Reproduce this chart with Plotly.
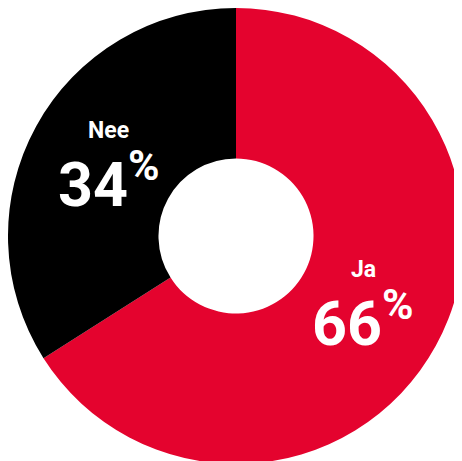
import math
import plotly.graph_objects as go

labels = ["Ja", "Nee"]
values = [66, 34]
colors = ["#E4032E", "#000000"]

FONT = "Roboto, Liberation Sans, sans-serif"

fig = go.Figure(go.Pie(
    labels=labels,
    values=values,
    hole=0.34,
    sort=False,
    direction="clockwise",
    rotation=0,
    marker=dict(colors=colors, line=dict(width=0)),
    textinfo="none",
    showlegend=False,
    hoverinfo="skip",
))

# label positions derived from the slice mid-angles
total = sum(values)
cum = 0
text_r = 0.318  # in paper units (outer radius = 0.5)
for lab, v in zip(labels, values):
    mid = (cum + v / 2) / total * 2 * math.pi
    cum += v
    px = 0.5 + text_r * math.sin(mid)
    py = 0.5 + text_r * math.cos(mid)
    fig.add_annotation(x=px, y=py, xref="paper", yref="paper", showarrow=False,
                       text=lab, yshift=36, xanchor="center", yanchor="middle",
                       font=dict(family=FONT, size=23, weight="bold", color="white"))
    fig.add_annotation(x=px, y=py, xref="paper", yref="paper", showarrow=False,
                       text=f"{v}<sup>%</sup>", yshift=-14, xanchor="center", yanchor="middle",
                       font=dict(family=FONT, size=61, weight="bold", color="white"))

fig.update_layout(
    width=456, height=456,
    margin=dict(l=0, r=0, t=0, b=0),
    paper_bgcolor="white",
    plot_bgcolor="white",
)
fig.write_html("out.html")
